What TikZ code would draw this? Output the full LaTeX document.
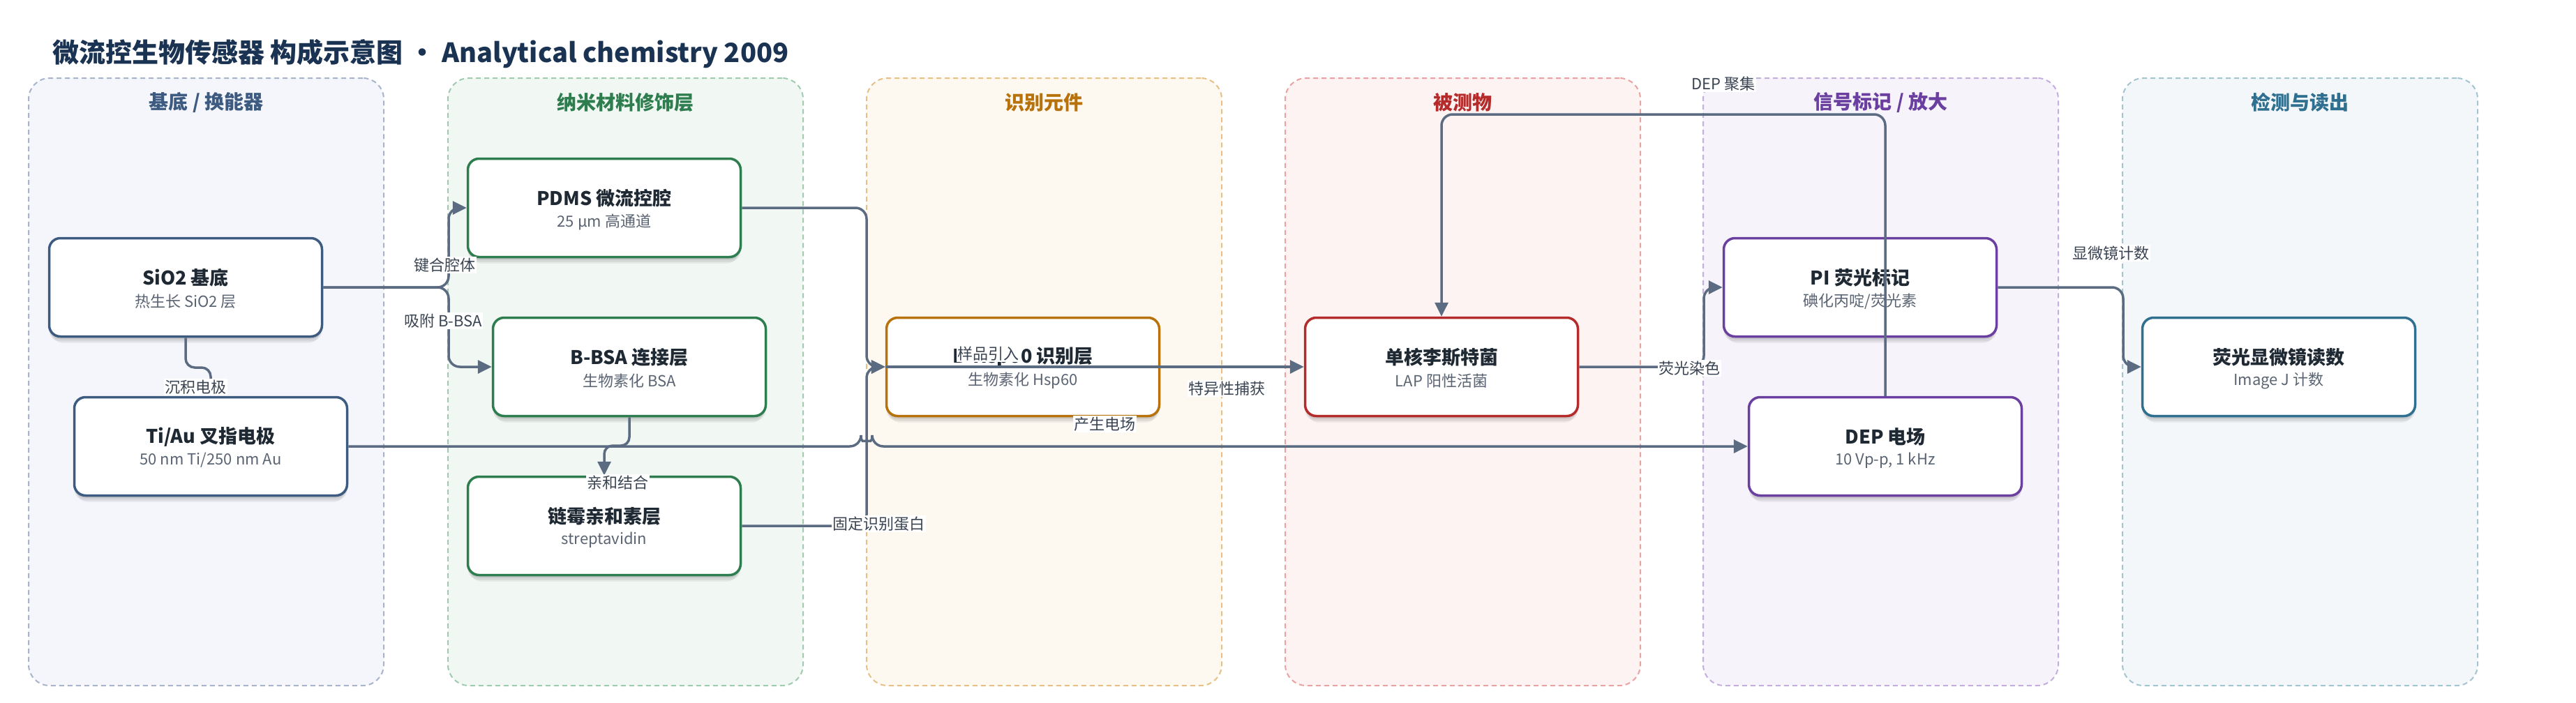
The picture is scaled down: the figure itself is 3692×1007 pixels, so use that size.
\documentclass[tikz,border=0pt]{standalone}
\usepackage{fontspec}
\setmainfont{Noto Sans CJK SC}
\usetikzlibrary{arrows.meta,shadows}
\definecolor{ttlc}{HTML}{1B3352}
\definecolor{ink}{HTML}{1F2933}
\definecolor{subc}{HTML}{5B6472}
\definecolor{lblc}{HTML}{3A4452}
\definecolor{edgec}{HTML}{5B6B82}
\definecolor{cA}{HTML}{3D5A80}\definecolor{fA}{HTML}{F5F6FB}\definecolor{bA}{HTML}{A8B4CC}
\definecolor{cB}{HTML}{2E7D4F}\definecolor{fB}{HTML}{F1F8F3}\definecolor{bB}{HTML}{A0CBB0}
\definecolor{cC}{HTML}{B8720B}\definecolor{fC}{HTML}{FDF8F0}\definecolor{bC}{HTML}{E6C088}
\definecolor{cD}{HTML}{B52A2A}\definecolor{fD}{HTML}{FDF3F2}\definecolor{bD}{HTML}{E8A3A3}
\definecolor{cE}{HTML}{6B3FA0}\definecolor{fE}{HTML}{F6F3FB}\definecolor{bE}{HTML}{C4AEE0}
\definecolor{cF}{HTML}{2F6F8F}\definecolor{fF}{HTML}{F3F7F9}\definecolor{bF}{HTML}{A4C4D0}
\tikzset{
  panel/.style={line width=2pt, dash pattern=on 7pt off 5pt, rounded corners=30pt,
    minimum width=509pt, minimum height=871pt, inner sep=0pt},
  phead/.style={font=\fontsize{28}{32}\selectfont\bfseries, inner sep=0pt},
  nbox/.style={line width=3.5pt, fill=white, rounded corners=16pt,
    minimum width=391pt, minimum height=141pt, inner sep=0pt,
    drop shadow={shadow xshift=0pt, shadow yshift=-11pt, shadow scale=0.98, opacity=0.05, fill=black},
    drop shadow={shadow xshift=0pt, shadow yshift=-7pt, opacity=0.07, fill=black},
    drop shadow={shadow xshift=0pt, shadow yshift=-4pt, opacity=0.08, fill=black}},
  ntitle/.style={font=\fontsize{27}{30}\selectfont\bfseries, text=ink, inner sep=0pt},
  nsub/.style={font=\fontsize{22}{26}\selectfont, text=subc, inner sep=0pt},
  edge/.style={draw=edgec, line width=3.5pt, rounded corners=16pt,
    -{Triangle[length=20pt,width=19pt]}},
  elabel/.style={fill=white, inner sep=1.5pt, font=\fontsize{22}{24}\selectfont, text=lblc},
}
\newcommand{\mkpanel}[6]{%
  \node[panel, fill=#3, draw=#4] (#1) at (#2,547.5) {};
  \node[phead, text=#5] (#1h) at (#2,147) {#6};
}
\newcommand{\mkbox}[6]{%
  \node[nbox, draw=#4] (#1) at (#2,#3) {};
  \node[ntitle] (#1t) at ([yshift=14pt]#1.center) {#5};
  \node[nsub] (#1s) at ([yshift=-20pt]#1.center) {#6};
}
\begin{document}
\begin{tikzpicture}[x=1pt,y=-1pt]
\useasboundingbox (0,0) rectangle (3692,1007);
\fill[white] (0,0) rectangle (3692,1007);
\node[anchor=west, font=\fontsize{38}{42}\selectfont\bfseries, text=ttlc, inner sep=0pt] (title) at (75,77)
  {微流控生物传感器 构成示意图 · Analytical chemistry 2009};
% panels
\mkpanel{pA}{295.5}{fA}{bA}{cA}{基底 / 换能器}
\mkpanel{pB}{896.5}{fB}{bB}{cB}{纳米材料修饰层}
\mkpanel{pC}{1496.5}{fC}{bC}{cC}{识别元件}
\mkpanel{pD}{2096.5}{fD}{bD}{cD}{被测物}
\mkpanel{pE}{2695.5}{fE}{bE}{cE}{信号标记 / 放大}
\mkpanel{pF}{3296.5}{fF}{bF}{cF}{检测与读出}
% nodes
\mkbox{sio}{266}{412}{cA}{SiO2 基底}{热生长 SiO2 层}
\mkbox{tiau}{302}{640}{cA}{Ti/Au 叉指电极}{50 nm Ti/250 nm Au}
\mkbox{pdms}{866}{298}{cB}{PDMS 微流控腔}{25 µm 高通道}
\mkbox{bbsa}{902}{526}{cB}{B-BSA 连接层}{生物素化 BSA}
\mkbox{strep}{866}{754}{cB}{链霉亲和素层}{streptavidin}
\mkbox{hsp}{1466}{526}{cC}{B-Hsp60 识别层}{生物素化 Hsp60}
\mkbox{lis}{2066}{526}{cD}{单核李斯特菌}{LAP 阳性活菌}
\mkbox{pi}{2666}{412}{cE}{PI 荧光标记}{碘化丙啶/荧光素}
\mkbox{dep}{2702}{640}{cE}{DEP 电场}{10 Vp-p, 1 kHz}
\mkbox{read}{3266}{526}{cF}{荧光显微镜读数}{Image J 计数}
% edges
\draw[edge] (sio.east) -- (643,412) -- (643,298) -- (pdms.west);
\draw[edge] (sio.east) -- (643,412) -- (643,526) -- (bbsa.west);
\draw[edge, rounded corners=13pt] (sio.south) -- (266,527) -- (302,527) -- (tiau.north);
\draw[edge, rounded corners=12pt] (bbsa.south) -- (902,639) -- (866,639) -- (strep.north);
\draw[edge] (tiau.east) -- (1234,640) arc[start angle=180, end angle=0, radius=8pt] -- (dep.west);
\draw[edge] (pdms.east) -- (1242,298) -- (1242,526) -- (hsp.west);
\draw[edge] (strep.east) -- (1242,754) -- (1242,526) -- (hsp.west);
\draw[edge] (hsp.west) -- (lis.west);
\draw[edge] (lis.east) -- (2442,526) -- (2442,412) -- (pi.west);
\draw[edge] (dep.north) -- (2702,164) -- (2066,164) -- (lis.north);
\draw[edge] (pi.east) -- (3043,412) -- (3043,526) -- (read.west);
% edge labels
\node[elabel] (l1) at (637,380) {键合腔体};
\node[elabel] (l2) at (635,460) {吸附 B-BSA};
\node[elabel] (l3) at (280,555) {沉积电极};
\node[elabel] (l4) at (885,692) {亲和结合};
\node[elabel] (l5) at (1416,507) {样品引入};
\node[elabel] (l6) at (1259,751) {固定识别蛋白};
\node[elabel] (l7) at (1758,557) {特异性捕获};
\node[elabel] (l8) at (1583,608) {产生电场};
\node[elabel] (l9) at (2421,528) {荧光染色};
\node[elabel] (l10) at (2470,120) {DEP 聚集};
\node[elabel] (l11) at (3025,363) {显微镜计数};
\end{tikzpicture}
\end{document}
